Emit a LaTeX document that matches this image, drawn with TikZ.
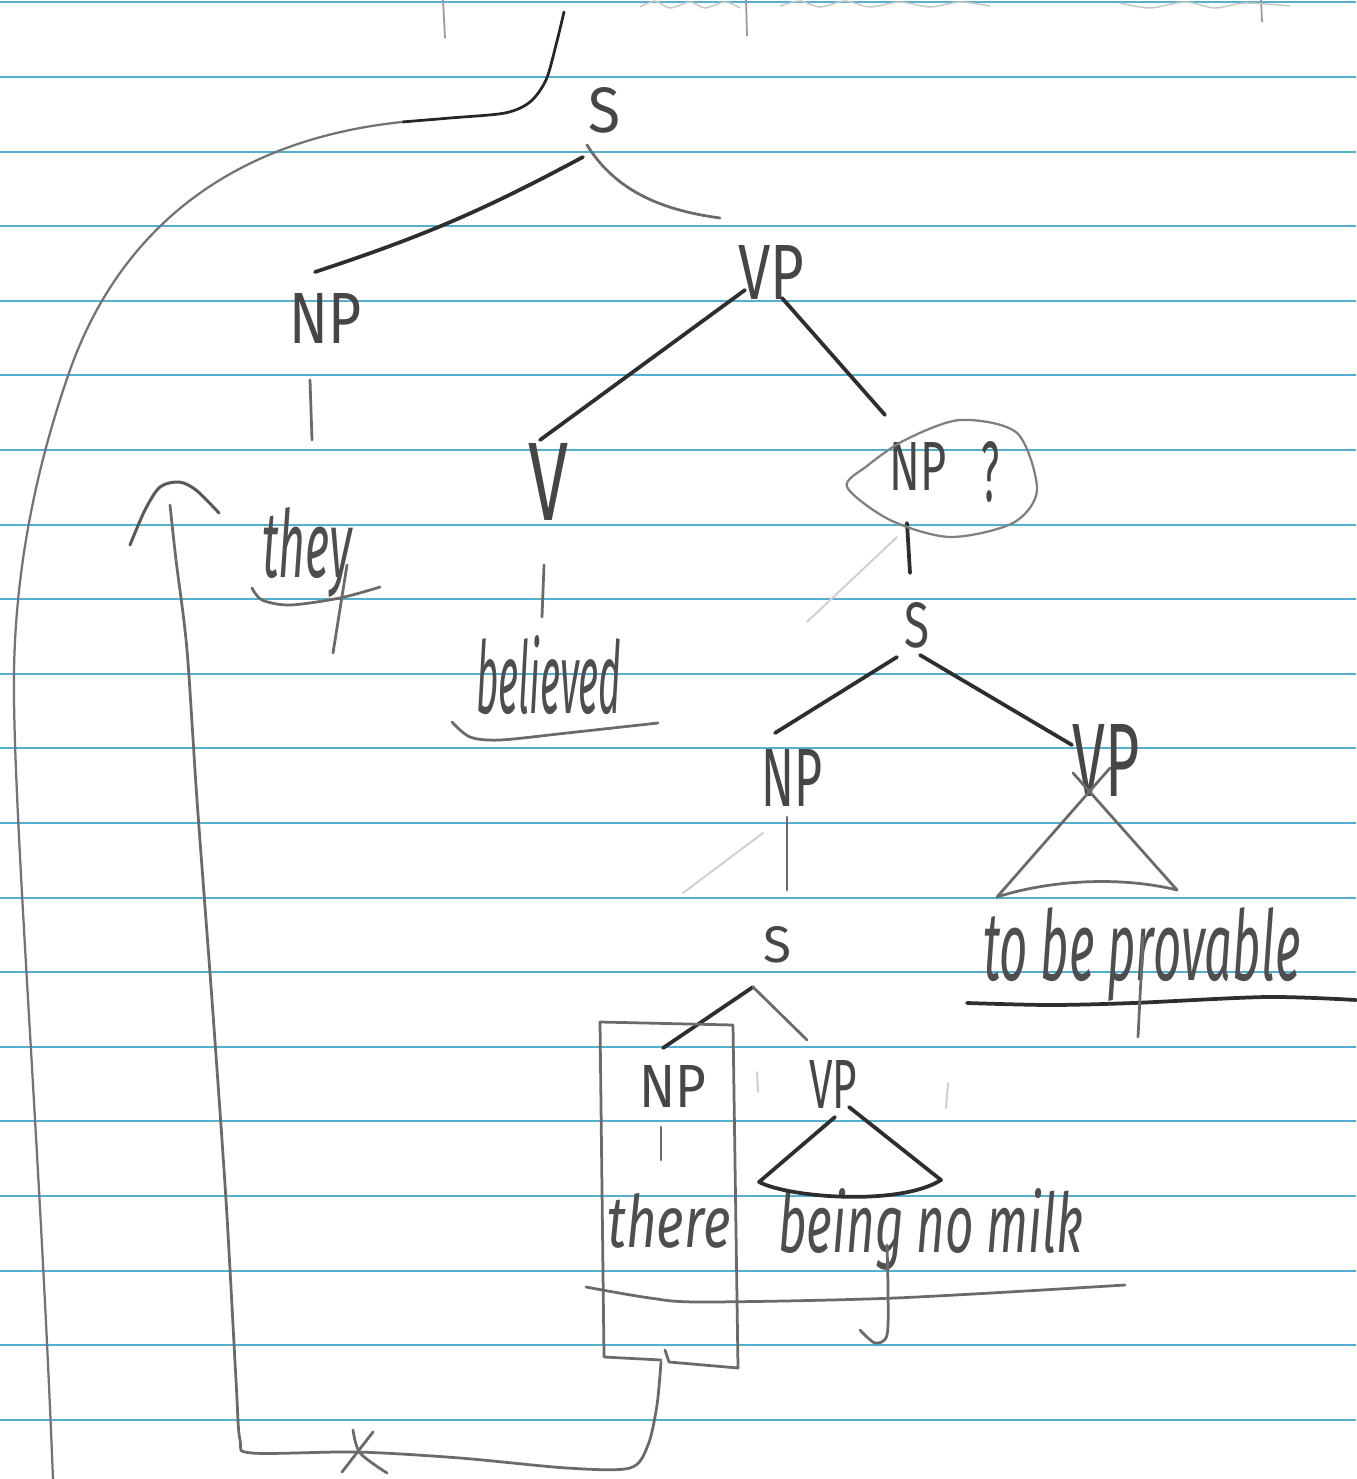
\documentclass[tikz,border=0pt]{standalone}
\usepackage{fontspec}
\IfFontExistsTF{FiraSans-Light.otf}
  {\newfontfamily\handlab{FiraSans-Light.otf}}
  {\newfontfamily\handlab{Fira Sans}}
\IfFontExistsTF{FiraSans-LightItalic.otf}
  {\newfontfamily\handword{FiraSans-LightItalic.otf}}
  {\newfontfamily\handwordbase{Fira Sans}\newcommand\handword{\handwordbase\itshape}}
\newlength\pxu \setlength\pxu{0.02cm}
\newcommand\hwlab[3]{\resizebox{#1\pxu}{#2\pxu}{\handlab #3}}
\newcommand\hwword[3]{\resizebox{#1\pxu}{#2\pxu}{\handword #3}}
\definecolor{paperblue}{RGB}{84,176,206}
\definecolor{inkdark}{HTML}{2E2E2E}
\definecolor{inkgrey}{HTML}{6A6A6A}
\definecolor{labgrey}{HTML}{464646}
\definecolor{wordgrey}{HTML}{4E4E4E}
\begin{document}
\begin{tikzpicture}[x=0.02cm,y=-0.02cm,
  rule/.style={draw=paperblue,line width=0.04cm},
  ink/.style={draw=inkdark,line width=0.075cm,line cap=round,line join=round},
  pencil/.style={draw=inkgrey,line width=0.055cm,line cap=round,line join=round},
  faint/.style={draw=black!18,line width=0.04cm,line cap=round},
  lbl/.style={inner sep=0pt,text=labgrey},
  wrd/.style={inner sep=0pt,anchor=base west,text=wordgrey}]
\useasboundingbox (0,0) rectangle (1356,1479);
\fill[white] (0,0) rectangle (1356,1479);
% ruled paper
\foreach \k in {0,...,19}{
  \draw[rule] (0,{2.4+74.6*\k}) -- (1356,{2.4+74.6*\k});
}
% cut-off writing at the top edge
\draw[draw=black!40,line width=0.035cm] (443,0) -- (445,38) (746,0) -- (747,36) (1261,0) -- (1262,22);
\draw[draw=black!22,line width=0.03cm] plot[smooth] coordinates {(640,7) (655,1) (670,8) (690,2) (705,8) (725,2) (740,8)};
\draw[draw=black!22,line width=0.03cm] plot[smooth] coordinates {(780,6) (800,1) (820,7) (845,1) (870,7) (900,2) (930,7) (960,2) (990,6)};
\draw[draw=black!22,line width=0.03cm] plot[smooth] coordinates {(1120,3) (1150,8) (1185,2) (1215,8) (1245,3) (1290,6)};

% nodes
\node[lbl] (S1) at (604,110) {\hwlab{32}{45}{S}};
\node[lbl] (NP1) at (326,318) {\hwlab{72}{50}{NP}};
\node[lbl] (VP1) at (771,272) {\hwlab{66}{54}{VP}};
\node[lbl] (V1) at (548,482) {\hwlab{40}{77}{V}};
\node[wrd] (they) at (262,577) {\hwword{90}{70}{they}};
\node[wrd] (believed) at (476,713) {\hwword{145}{78}{believed}};
\node[lbl] (NPq) at (918,466) {\hwlab{57}{48}{NP}};
\node[lbl] (q) at (990,472) {\hwlab{18}{60}{?}};
\node[lbl] (S2) at (917,625) {\hwlab{25}{45}{S}};
\node[lbl] (NP3) at (792,778) {\hwlab{61}{57}{NP}};
\node[lbl] (VP2) at (1106,760) {\hwlab{67}{72}{VP}};
\node[wrd] (tbp) at (983,980) {\hwword{317}{73}{to be provable}};
\node[lbl] (S3) at (777,945) {\hwlab{28}{36}{S}};
\node[lbl] (NP4) at (673,1086) {\hwlab{67}{42}{NP}};
\node[lbl] (VP4) at (833,1084) {\hwlab{48}{48}{VP}};
\node[wrd] (there) at (607,1247) {\hwword{123}{54}{there}};
\node[wrd] (bnm) at (778,1252) {\hwword{305}{64}{being no milk}};

% tree branches
\draw[ink] ([shift={(-21,47)}]S1.center) to[bend left=5] ([shift={(-11,-46)}]NP1.center);
\draw[pencil] ([shift={(-17,35)}]S1.center) .. controls +(28,45) and +(-60,-8) .. ([shift={(-51,-54)}]VP1.center);
\draw[ink] ([shift={(-26,18)}]VP1.center) -- ([shift={(-8,-42)}]V1.center);
\draw[ink] ([shift={(11,26)}]VP1.center) -- ([shift={(-33,-51)}]NPq.center);
\draw[ink] ([shift={(-11,57)}]NPq.center) -- ([shift={(-7,-52)}]S2.center);
\draw[ink] ([shift={(-20,32)}]S2.center) -- ([shift={(-17,-45)}]NP3.center);
\draw[ink] ([shift={(3,30)}]S2.center) -- ([shift={(-34,-15)}]VP2.center);
\draw[pencil] ([shift={(-5,39)}]NP3.center) -- ([shift={(10,-55)}]S3.center);
\draw[ink] ([shift={(-24,42)}]S3.center) -- ([shift={(-10,-38)}]NP4.center);
\draw[pencil] ([shift={(-24,42)}]S3.center) -- ([shift={(-26,-44)}]VP4.center);
\draw[pencil] ([shift={(-16,62)}]NP1.center) -- ([shift={(50,-137)}]they.base west);
\draw[pencil] ([shift={(-4,83)}]V1.center) -- ([shift={(66,-96)}]believed.base west);
\draw[pencil] ([shift={(-12,41)}]NP4.center) -- ([shift={(54,-87)}]there.base west);

% balloon round NP ?
\draw[draw=black!50,line width=0.045cm] plot[smooth cycle] coordinates {(867,466) (905,440) (960,420) (1017,433) (1037,490) (1013,523) (950,537) (890,520) (847,487)};

% triangles
\draw[pencil] (1110,768) -- (997,897) .. controls (1050,880) and (1120,876) .. (1177,890) -- (1073,773);
\draw[ink] (835,1117) -- (759,1182) .. controls (790,1198) and (900,1206) .. (941,1180) -- (849,1107);

% box round "there"
\draw[pencil] (665,1350) -- (669,1362) -- (738,1368) -- (733,1025) -- (600,1022) -- (604,1357) -- (661,1360);

% underlines and long strokes of the writing
\draw[pencil] plot[smooth] coordinates {(252,588) (262,600) (290,605) (340,598) (380,587)};
\draw[pencil] (347,565) -- (333,653);
\draw[pencil] plot[smooth] coordinates {(452,722) (470,737) (500,740) (567,733) (658,723)};
\draw[ink] plot[smooth] coordinates {(967,1003) (1050,1005) (1133,1003) (1267,997) (1356,1000)};
\draw[pencil] (1143,937) -- (1138,1037);
\draw[pencil] plot[smooth] coordinates {(586,1287) (650,1298) (703,1302) (895,1298) (1125,1285)};
\draw[pencil] plot[smooth] coordinates {(887,1245) (888,1290) (887,1335) (875,1343) (860,1330)};

% faint erased strokes
\draw[faint] (897,537) -- (807,622);
\draw[faint] (763,833) -- (683,893);
\draw[faint] (757,1072) -- (758,1092);
\draw[faint] (948,1083) -- (946,1108);

% big loop from the top
\draw[draw=black!85,line width=0.055cm,line cap=round] plot[smooth] coordinates {(564,12) (556,45) (546,80) (530,102) (505,113) (450,118) (402,122)};
\draw[draw=black!55,line width=0.045cm,line cap=round] (402,122) .. controls (230,140) and (120,230) .. (70,370) .. controls (35,470) and (12,580) .. (14,700) .. controls (16,850) and (40,1150) .. (53,1479);

% movement path with arrow
\draw[pencil] plot[smooth] coordinates {(661,1362) (657,1405) (648,1445) (630,1468) (567,1468) (460,1458) (357,1452) (252,1453) (240,1440) (236,1380) (226,1200) (212,1000) (197,800) (187,650) (176,560) (170,505)};
\draw[draw=black!65,line width=0.06cm,line cap=round] plot[smooth] coordinates {(130,545) (145,510) (160,487) (179,482) (196,490) (219,513)};
\draw[pencil] (342,1472) -- (373,1432);
\draw[pencil] plot[smooth] coordinates {(353,1430) (360,1453) (387,1473)};
\end{tikzpicture}
\end{document}
